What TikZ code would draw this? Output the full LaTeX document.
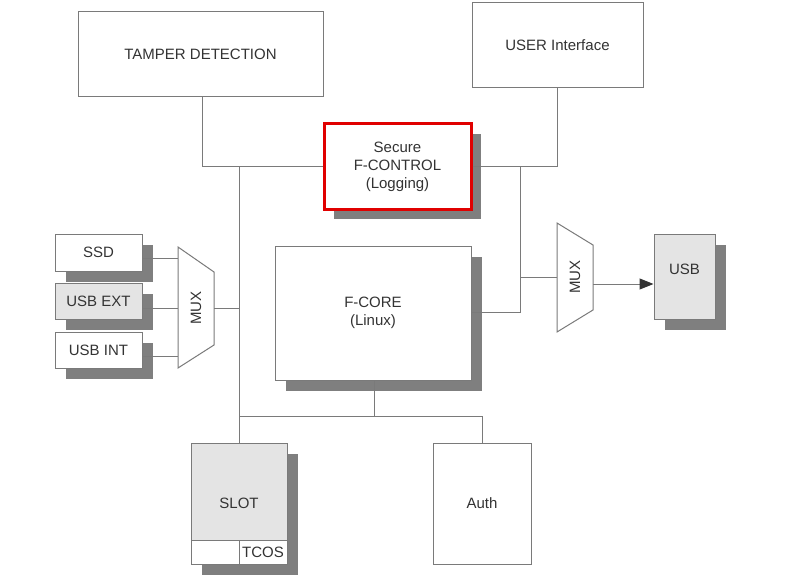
\documentclass[tikz,border=0pt]{standalone}
\usepackage{fontspec}
\setmainfont{Liberation Sans}
\usetikzlibrary{shadows,arrows.meta}
\definecolor{linegray}{HTML}{7A7A7A}
\definecolor{boxgray}{HTML}{E4E4E4}
\definecolor{shadowgray}{HTML}{7F7F7F}
\definecolor{txt}{HTML}{333333}
\definecolor{alarmred}{HTML}{E00000}
\tikzset{
  box/.style={draw=linegray, line width=1pt, fill=white, inner sep=0pt, text=txt,
    font=\fontsize{15}{18}\selectfont, align=center},
  shad/.style={general shadow={fill=shadowgray, shadow xshift=11pt, shadow yshift=-11pt}},
  greybox/.style={box, fill=boxgray},
  wire/.style={draw=linegray, line width=1pt},
  muxshape/.style={draw=linegray, line width=1pt, fill=white},
  lbl/.style={text=txt, font=\fontsize{15}{18}\selectfont, inner sep=0pt}
}
\begin{document}
\begin{tikzpicture}[x=1pt, y=-1pt]
\useasboundingbox[fill=white] (0,0) rectangle (800,575);

% top boxes
\node[box, minimum width=245, minimum height=85] (tamper) at (200.5,54.5) {TAMPER DETECTION};
\node[box, minimum width=171, minimum height=85] (user) at (557.5,45.5) {USER Interface};
\node[box, draw=alarmred, line width=3pt, minimum width=147, minimum height=85,
  general shadow={fill=shadowgray, shadow xshift=10pt, shadow yshift=-10pt}] (fctl) at (397.5,166.5)
  {Secure\\F-CONTROL\\(Logging)};

% F-CORE
\node[box, shad, minimum width=196, minimum height=134] (fcore) at (373,313) {F-CORE\\(Linux)};

% left storage boxes
\node[box, shad, minimum width=87, minimum height=37] (ssd) at (98.5,252.5) {SSD};
\node[greybox, shad, minimum width=87, minimum height=36] (usbext) at (98.5,301) {USB EXT};
\node[box, shad, minimum width=87, minimum height=36] (usbint) at (98.5,350) {USB INT};

% USB right
\node[greybox, shad, minimum width=61, minimum height=85] (usb) at (684.5,276.5) {};
\node[lbl] (usblbl) at (684.5,269) {USB};

% SLOT
\node[greybox, shad, minimum width=96, minimum height=121] (slot) at (239,503.5) {};
\node[lbl] (slotlbl) at (239,503) {SLOT};
\node[box, minimum width=48, minimum height=24] (slotl) at (215,552) {};
\node[box, minimum width=48, minimum height=24] (tcos) at (263,552) {TCOS};

% Auth
\node[box, minimum width=98, minimum height=121] (auth) at (482,503.5) {Auth};

% MUX left
\draw[muxshape] (178,247) -- (214,272) -- (214,345) -- (178,368) -- cycle;
\node[lbl, rotate=90] (lmux) at (196,308) {MUX};
\coordinate (lmuxout) at (214,308);
\coordinate (lmuxin) at (178,308);

% MUX right
\draw[muxshape] (557,223) -- (593,245) -- (593,310) -- (557,332) -- cycle;
\node[lbl, rotate=90] (rmux) at (575,277) {MUX};
\coordinate (rmuxin) at (557,277);
\coordinate (rmuxout) at (593,284);

% junction coordinates
\coordinate (rj) at (520,167);
\coordinate (cj) at (374,416);

% connectors
\draw[wire] (tamper.south -| 202,0) |- (fctl.west);
\draw[wire] (slot.north) -- (slot.north |- fctl.west);
\draw[wire] (fctl.east) -| (user.south);
\draw[wire] (fcore.east |- 0,312) -| (rj);
\draw[wire] (rmuxin) -- (rmuxin -| rj);
\draw[wire, -{Triangle[length=14pt, width=11pt, fill=txt, color=txt]}] (rmuxout) -- (rmuxout -| usb.west);
\draw[wire] (lmuxout) -- (lmuxout -| slot.north);
\draw[wire] ([yshift=-6pt]ssd.east) -- ([yshift=-6pt]ssd.east -| lmuxin);
\draw[wire] ([yshift=-7pt]usbext.east) -- ([yshift=-7pt]usbext.east -| lmuxin);
\draw[wire] ([yshift=-6pt]usbint.east) -- ([yshift=-6pt]usbint.east -| lmuxin);
\draw[wire] (fcore.south -| cj) -- (cj);
\draw[wire] (slot.north |- cj) -| (auth.north);
\end{tikzpicture}
\end{document}
